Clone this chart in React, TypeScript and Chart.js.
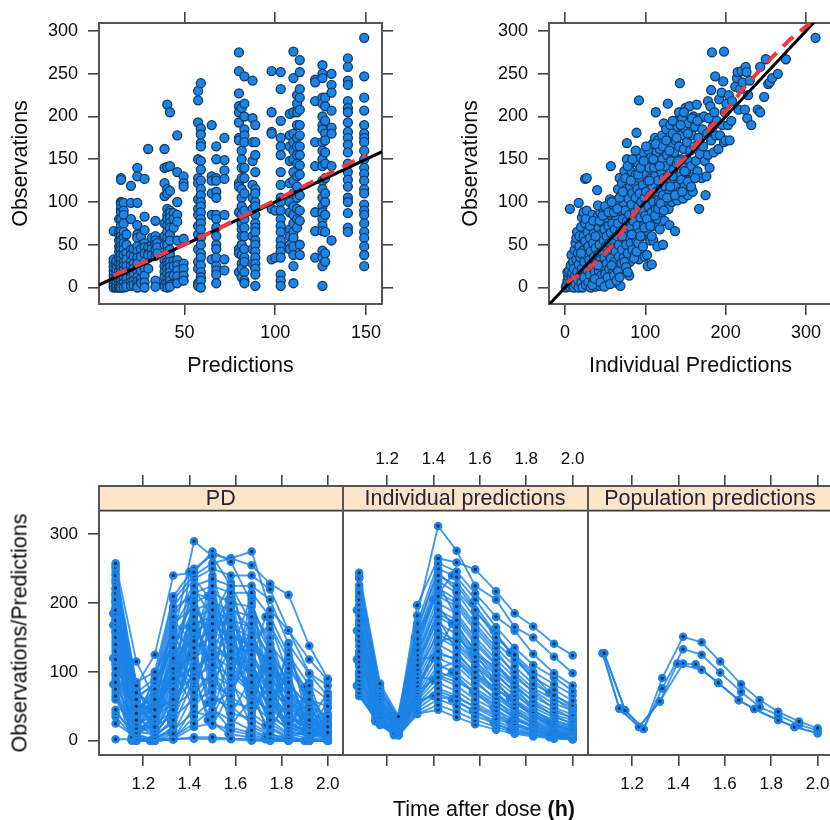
import React, { useEffect, useRef } from "react";
import { Chart, registerables } from "chart.js";
Chart.register(...registerables);

const FONT = "'Liberation Sans', Arial, sans-serif";
const BLUE = "#1c84e6";
const EDGE = "#123a63";
const FRAME = "#555555";

const yTicksTop = [0, 50, 100, 150, 200, 250, 300];
const xTicksPred = [50, 100, 150];
const xTicksIpred = [0, 100, 200, 300];
const yTicksBottom = [0, 100, 200, 300];
const timeTicks = [1.2, 1.4, 1.6, 1.8, 2.0];

const predColumns = [11, 12.5, 14, 15, 16.5, 18, 20.5, 22, 24, 26, 28, 30, 32, 34, 35, 39, 40.5, 42, 44, 46, 49.5, 57.5, 59, 65, 67.5, 72, 80, 81.5, 83, 87.5, 89, 98, 100, 103, 108, 110, 112, 113.5, 122, 126, 127.5, 131, 140, 149];
const obsByColumn = [
  [0, 2, 5, 9, 14, 19, 24, 29, 33, 66],
  [0, 1, 4, 8, 12, 17, 22, 27, 31],
  [0, 2, 6, 10, 15, 20, 28, 35, 42, 48, 55, 62, 66, 80],
  [128, 126, 100, 98, 92, 88, 80, 72, 66, 60, 55, 48, 44, 38, 32, 27, 22, 18, 13, 8, 3, 0],
  [99, 90, 85, 75, 65, 58, 52, 45, 38, 30, 25, 20, 15, 10, 5, 0],
  [62, 50, 40, 33, 25, 18, 10, 4, 1],
  [119, 99, 80, 44, 38, 30, 25, 18, 12, 6, 2],
  [45, 36, 28, 22, 15, 8, 3],
  [140, 130, 99, 73, 62, 58, 48, 42, 35, 28, 20, 12, 7, 3, 0],
  [60, 45, 36, 20, 10, 5],
  [127, 83, 67, 52, 47, 40, 30, 22, 14, 6, 0],
  [162, 47, 40, 38, 22],
  [50, 58, 45, 38],
  [78, 60, 55, 50, 44, 37, 8, 1],
  [52, 47, 40],
  [162, 140, 122, 107, 75, 60, 50, 32, 25, 18, 12, 4, 1],
  [214, 141, 115, 110, 92, 85, 80, 72, 65, 58, 50, 42, 35, 30, 26, 22, 16, 10, 5, 0],
  [205, 142, 113, 90, 87, 82, 76, 70, 62, 55, 44, 38, 30, 24, 18, 13, 8, 3, 1],
  [87, 80, 70, 31, 25, 14],
  [178, 135, 100, 85, 77, 55, 32, 26, 20, 13, 5],
  [130, 122, 118, 57, 28, 22, 14, 8],
  [230, 219, 193, 150, 128, 122, 103, 92, 85, 72, 62, 45, 30, 22, 5, 2],
  [239, 186, 179, 169, 165, 148, 138, 125, 115, 108, 100, 95, 88, 80, 75, 68, 58, 50, 40, 35, 26, 18, 12, 8, 0],
  [190, 130, 125, 110, 85, 33],
  [165, 150, 128, 125, 112, 105, 85, 80, 70, 60, 50, 45, 35, 25, 20, 15, 5],
  [175, 149, 137, 127, 85, 33, 20],
  [275, 253, 227, 212, 205, 193, 175, 172, 122, 118, 88, 45, 40, 18],
  [210, 160, 150, 140, 128, 115, 105, 95, 85, 75, 68, 60, 50, 38, 28, 22, 12],
  [247, 215, 200, 185, 178, 170, 140, 128, 110, 90, 80, 70, 60, 45, 35, 30, 18, 8, 5],
  [242, 198, 170, 148, 120, 105, 92, 60, 45, 28],
  [190, 170, 155, 135, 115, 110, 100, 95, 85, 75, 70, 65, 55, 50, 42, 35, 28, 22, 15, 2],
  [253, 205, 182, 180, 92, 33],
  [90, 35],
  [252, 232, 195, 175, 165, 155, 135, 120, 105, 100, 90, 80, 72, 65, 55, 48, 42, 35, 15, 8, 2],
  [203, 178, 165, 148, 122, 100, 88, 68, 60, 50, 45],
  [276, 245, 205, 180, 170, 160, 150, 135, 125, 110, 95, 85, 75, 65, 58, 48, 38, 25, 5],
  [225, 215, 205, 190, 175, 165, 155, 145, 130, 118, 105, 92, 80, 70],
  [266, 252, 232, 222, 208, 190, 178, 165, 155, 143, 132, 108, 90, 78, 50, 38],
  [243, 240, 218, 170, 142, 88, 66, 35],
  [260, 250, 245, 222, 215, 200, 190, 185, 170, 160, 150, 142, 125, 115, 105, 95, 88, 80, 72, 66, 43, 35, 25, 2],
  [222, 212, 195, 180, 172, 158, 145, 128, 110, 100, 85, 65, 40, 30],
  [250, 237, 228, 207, 187, 180, 142, 55],
  [268, 258, 242, 237, 218, 210, 205, 193, 182, 175, 167, 158, 145, 135, 126, 118, 105, 100, 87, 70, 65],
  [292, 247, 222, 207, 190, 180, 175, 170, 160, 150, 140, 133, 125, 115, 110, 97, 90, 85, 75, 65, 58, 48, 38, 25],
];

const ipredObsPairs = [
  [1, 0], [2, 3], [3, 8], [4, 13], [3, 18], [5, 20], [6, 92], [6, 1], [7, 6], [7, 26], [8, 11], [8, 38], [9, 2], [9, 17], [10, 30], [10, 8], [11, 0], [11, 22], [12, 44], [12, 13],
  [13, 52], [13, 4], [14, 33], [14, 58], [15, 18], [15, 65], [16, 9], [16, 40], [17, 99], [17, 0], [17, 27], [18, 48], [18, 60], [19, 14], [19, 35], [20, 5], [20, 71], [21, 22], [21, 82], [22, 43],
  [22, 0], [23, 88], [23, 60], [24, 30], [24, 12], [25, 127], [25, 54], [25, 75], [26, 3], [27, 128], [27, 38], [27, 90], [28, 20], [28, 65], [29, 48], [29, 6], [30, 80], [30, 32], [31, 58], [31, 15],
  [32, 0], [32, 42], [33, 72], [33, 24], [34, 85], [35, 52], [35, 8], [36, 36], [36, 64], [37, 18], [37, 78], [38, 1], [38, 46], [39, 28], [40, 114], [40, 60], [40, 10], [41, 84], [41, 38], [42, 20],
  [42, 70], [43, 50], [43, 2], [44, 32], [44, 88], [45, 62], [45, 14], [46, 76], [46, 42], [47, 25], [47, 5], [48, 55], [48, 90], [49, 35], [49, 68], [50, 16], [50, 80], [51, 48], [51, 3], [52, 60],
  [52, 28], [53, 96], [53, 40], [54, 72], [54, 10], [55, 52], [55, 22], [56, 103], [56, 85], [57, 142], [57, 34], [57, 64], [58, 6], [58, 45], [59, 92], [59, 75], [60, 18], [60, 56], [61, 101], [61, 30],
  [62, 68], [62, 10], [63, 84], [63, 42], [64, 98], [64, 24], [65, 60], [65, 5], [66, 115], [66, 75], [67, 36], [67, 50], [68, 90], [68, 128], [69, 2], [69, 66], [70, 108], [70, 28], [71, 122], [71, 44],
  [72, 80], [72, 58], [73, 100], [73, 35], [74, 136], [74, 68], [75, 20], [75, 90], [76, 115], [76, 50], [77, 169], [77, 150], [77, 78], [78, 40], [78, 128], [79, 60], [79, 104], [80, 14], [80, 85], [80, 142],
  [81, 30], [81, 118], [82, 70], [82, 52], [83, 97], [83, 135], [84, 44], [84, 110], [85, 78], [85, 148], [86, 62], [86, 122], [87, 88], [87, 38], [88, 132], [88, 105], [89, 181], [89, 54], [90, 72], [90, 115],
  [91, 145], [91, 94], [92, 219], [92, 33], [92, 64], [93, 128], [93, 110], [94, 82], [94, 152], [95, 44], [95, 100], [96, 138], [96, 60], [97, 120], [97, 90], [98, 158], [98, 72], [99, 105], [99, 36], [100, 132],
  [100, 84], [101, 148], [101, 112], [102, 38], [102, 66], [103, 25], [103, 125], [104, 160], [104, 95], [105, 76], [105, 140], [106, 108], [106, 55], [107, 152], [107, 128], [108, 27], [108, 88], [109, 168], [109, 118], [110, 55],
  [110, 100], [111, 140], [111, 72], [112, 175], [112, 130], [113, 205], [113, 92], [114, 158], [114, 112], [115, 48], [115, 80], [116, 172], [116, 125], [117, 100], [117, 145], [118, 68], [118, 162], [119, 115], [120, 88], [120, 135],
  [121, 178], [121, 150], [122, 50], [122, 108], [123, 192], [123, 128], [124, 78], [124, 165], [125, 118], [125, 142], [126, 100], [126, 185], [127, 155], [128, 215], [128, 130], [129, 92], [129, 172], [130, 73], [130, 112], [131, 190],
  [132, 148], [132, 125], [133, 165], [133, 100], [134, 180], [135, 138], [135, 106], [136, 158], [137, 66], [137, 195], [138, 118], [138, 172], [139, 145], [140, 102], [140, 188], [141, 130], [142, 165], [142, 205], [143, 239], [143, 112],
  [144, 150], [145, 178], [145, 126], [146, 198], [147, 140], [147, 104], [148, 162], [149, 118], [150, 185], [150, 210], [151, 135], [152, 170], [152, 150], [153, 108], [154, 192], [155, 126], [155, 212], [156, 160], [157, 142], [158, 178],
  [159, 112], [160, 200], [160, 130], [161, 165], [162, 188], [163, 148], [164, 214], [165, 136], [166, 175], [167, 92], [168, 156], [168, 198], [170, 128], [171, 185], [172, 165], [173, 200], [174, 148], [175, 108], [176, 130], [177, 180],
  [178, 218], [178, 155], [179, 198], [180, 140], [181, 212], [182, 231], [182, 172], [183, 275], [184, 188], [185, 158], [186, 205], [187, 247], [188, 178], [189, 195], [191, 162], [192, 220], [193, 178], [195, 228], [196, 190], [197, 241],
  [198, 276], [198, 170], [199, 205], [200, 172], [201, 215], [203, 190], [204, 225], [205, 172], [207, 195], [208, 218], [212, 235], [214, 245], [215, 252], [216, 208], [218, 232], [220, 253], [221, 240], [224, 208], [225, 258], [226, 252],
  [227, 198], [228, 225], [230, 242], [232, 190], [240, 208], [243, 205], [243, 258], [248, 223], [250, 267], [253, 238], [255, 240], [258, 245], [265, 250], [275, 267], [312, 292],
  [34, 3], [37, 10], [41, 26], [44, 6], [49, 1], [53, 12], [56, 4], [58, 26], [61, 14], [64, 8], [66, 19], [68, 12], [71, 60], [74, 30], [76, 24], [78, 18], [83, 62], [86, 34], [89, 42], [91, 52], [94, 60], [97, 48], [99, 70], [102, 80], [106, 72], [108, 60], [112, 84], [116, 92], [119, 98], [123, 90], [127, 105], [131, 118], [134, 130], [137, 108], [141, 148], [146, 112], [149, 136], [153, 124], [157, 118], [162, 128],
  [20, 40], [26, 80], [31, 72], [35, 78], [38, 60], [41, 96], [43, 78], [47, 84], [50, 95], [54, 88], [58, 100], [61, 88], [65, 92], [68, 105], [72, 112], [75, 128], [78, 142], [82, 125], [84, 150], [88, 160], [91, 132], [94, 140], [98, 148], [101, 165], [105, 125], [110, 150], [113, 168], [118, 142], [122, 165], [126, 172], [130, 160], [134, 195], [139, 175], [144, 190], [148, 205], [153, 180], [158, 198], [165, 195],
];

const lineEnds = [-30, 340];
const predLoessX = [11, 60, 100, 150];
const predLoessY = [14, 60, 102, 155];
const ipredLoessX = [2, 30, 60, 80, 100, 120, 150, 180, 200, 225, 250, 280, 305];
const ipredLoessY = [6, 22, 50, 78, 104, 125, 152, 186, 206, 236, 262, 290, 309];

const doseTimes = [1.08, 1.17, 1.25, 1.33, 1.42, 1.5, 1.58, 1.67, 1.75, 1.83, 1.92, 2.0];
const earlyTimes = [1.07, 1.15, 1.23, 1.32, 1.4, 1.48, 1.57, 1.66, 1.73, 1.83, 1.9, 2.0];

const pdMain = [
  [258, 115, 60, 150, 290, 268, 225, 170, 120, 70, 30, 12],
  [252, 80, 125, 240, 245, 275, 260, 200, 130, 85, 45, 20],
  [240, 85, 100, 210, 250, 270, 265, 255, 228, 212, 138, 90],
  [222, 70, 90, 205, 240, 258, 265, 275, 190, 160, 118, 88],
  [215, 60, 85, 195, 235, 250, 240, 240, 220, 160, 98, 80],
  [205, 50, 60, 180, 225, 235, 225, 225, 205, 140, 97, 65],
  [190, 40, 75, 165, 215, 225, 215, 215, 180, 125, 80, 60],
  [185, 30, 55, 150, 200, 215, 200, 195, 140, 105, 60, 50],
  [175, 72, 45, 135, 190, 200, 190, 180, 130, 82, 50, 35],
  [170, 25, 35, 120, 180, 190, 175, 165, 120, 75, 40, 30],
  [160, 55, 40, 105, 170, 180, 165, 150, 105, 62, 32, 22],
  [140, 18, 20, 90, 160, 170, 150, 140, 95, 50, 25, 18],
  [130, 45, 30, 75, 145, 160, 140, 125, 85, 40, 20, 12],
  [118, 35, 15, 60, 135, 150, 130, 110, 70, 35, 18, 8],
  [105, 12, 10, 45, 120, 140, 120, 95, 60, 25, 12, 5],
  [95, 25, 5, 30, 105, 125, 105, 85, 50, 20, 10, 3],
  [85, 8, 2, 20, 90, 110, 95, 70, 40, 15, 6, 0],
  [75, 4, 0, 10, 70, 95, 80, 55, 30, 10, 3, 0],
  [65, 2, 0, 2, 50, 80, 65, 40, 20, 5, 0, 0],
  [45, 0, 0, 2, 35, 60, 50, 25, 10, 2, 0, 0],
  [40, 10, 0, 5, 25, 45, 30, 15, 5, 0, 0, 0],
  [35, 0, 2, 2, 20, 25, 15, 8, 2, 0, 0, 0],
  [25, 5, 0, 2, 5, 5, 3, 2, 0, 0, 0, 0],
  [2, 2, 0, 2, 3, 2, 2, 0, 0, 0, 0, 0],
  [248, 40, 70, 190, 215, 205, 160, 120, 75, 50, 20, 10],
  [235, 28, 50, 170, 195, 155, 185, 100, 60, 35, 15, 5],
  [210, 65, 80, 140, 205, 130, 120, 145, 90, 55, 25, 15],
  [200, 32, 30, 100, 128, 175, 145, 90, 110, 42, 30, 8],
  [180, 15, 65, 115, 150, 110, 170, 130, 65, 90, 22, 2],
  [165, 48, 25, 85, 110, 195, 100, 75, 140, 30, 55, 0],
  [150, 20, 12, 65, 95, 85, 135, 60, 45, 100, 12, 25],
  [125, 5, 42, 125, 85, 120, 75, 115, 35, 18, 70, 5],
  [110, 38, 8, 50, 72, 100, 55, 48, 80, 12, 8, 48],
  [90, 10, 22, 35, 60, 70, 40, 32, 15, 65, 5, 15],
  [70, 0, 5, 15, 42, 35, 90, 20, 8, 5, 35, 2],
  [228, 58, 35, 95, 175, 165, 210, 80, 55, 28, 10, 30],
  [195, 22, 95, 160, 130, 215, 125, 100, 25, 8, 45, 0],
  [145, 62, 18, 70, 155, 90, 60, 155, 100, 45, 2, 18],
  [255, 50, 28, 110, 80, 145, 110, 65, 12, 120, 60, 10],
  [220, 42, 52, 55, 118, 60, 180, 35, 162, 22, 4, 40],
  [232, 68, 48, 175, 140, 240, 155, 135, 115, 60, 28, 6],
  [212, 52, 38, 128, 220, 180, 230, 105, 68, 38, 16, 3],
  [192, 36, 88, 82, 165, 125, 195, 160, 78, 48, 65, 28],
  [178, 78, 22, 155, 100, 210, 90, 185, 150, 72, 36, 14],
  [155, 28, 68, 48, 185, 75, 220, 118, 42, 112, 52, 1],
  [135, 58, 14, 112, 68, 185, 148, 52, 125, 28, 7, 35],
  [122, 16, 32, 68, 210, 135, 82, 205, 58, 16, 42, 0],
  [98, 42, 55, 95, 125, 230, 115, 78, 30, 142, 18, 55],
  [80, 22, 18, 132, 55, 95, 205, 45, 92, 8, 85, 9],
  [243, 74, 42, 88, 198, 55, 70, 142, 170, 95, 12, 22],
  [202, 34, 78, 145, 78, 152, 38, 92, 20, 55, 28, 70],
  [172, 12, 26, 42, 138, 40, 128, 210, 72, 6, 0, 32],
  [158, 66, 10, 25, 172, 108, 22, 62, 135, 32, 22, 0],
  [112, 48, 62, 102, 48, 205, 175, 28, 105, 78, 3, 16],
  [60, 6, 35, 55, 92, 22, 72, 170, 48, 132, 38, 4],
];
const pdEarly = [
  [185, 5, 0, 28, 245, 210, 155, 105, 180, 118, 78, 25],
  [168, 3, 45, 80, 205, 120, 205, 88, 22, 3, 15, 0],
  [120, 1, 0, 40, 165, 55, 20, 12, 6, 2, 0, 0],
  [82, 0, 0, 12, 125, 30, 10, 5, 2, 0, 0, 0],
];

const ipredMain = [
  [244, 83, 35, 197, 265, 259, 249, 217, 185, 166, 141, 124],
  [236, 78, 33, 182, 312, 276, 225, 205, 165, 150, 122, 98],
  [226, 75, 30, 170, 258, 246, 214, 180, 160, 126, 98, 80],
  [215, 70, 28, 158, 250, 238, 205, 165, 135, 110, 92, 72],
  [205, 66, 28, 148, 240, 226, 190, 150, 125, 100, 82, 66],
  [198, 62, 26, 140, 232, 215, 178, 142, 118, 92, 74, 58],
  [190, 58, 26, 132, 222, 205, 170, 135, 108, 82, 66, 52],
  [182, 55, 24, 125, 210, 195, 160, 125, 100, 76, 60, 48],
  [175, 52, 24, 118, 200, 185, 150, 118, 92, 72, 54, 44],
  [168, 48, 22, 110, 190, 175, 140, 110, 85, 64, 48, 38],
  [160, 46, 22, 104, 180, 165, 132, 102, 78, 58, 42, 34],
  [152, 42, 20, 98, 170, 155, 122, 95, 72, 52, 38, 30],
  [145, 40, 20, 92, 160, 145, 115, 88, 66, 48, 34, 26],
  [138, 36, 18, 86, 150, 135, 108, 82, 60, 42, 30, 22],
  [130, 34, 18, 80, 140, 125, 100, 76, 54, 38, 26, 18],
  [122, 32, 16, 75, 130, 116, 92, 68, 48, 34, 22, 15],
  [115, 30, 16, 70, 120, 108, 84, 62, 44, 30, 20, 12],
  [108, 30, 14, 66, 110, 98, 76, 56, 40, 26, 16, 10],
  [100, 28, 14, 62, 100, 90, 68, 50, 35, 22, 14, 8],
  [94, 28, 12, 58, 92, 80, 60, 44, 30, 20, 12, 6],
  [88, 26, 12, 54, 84, 72, 54, 38, 25, 16, 10, 5],
  [82, 26, 10, 50, 76, 65, 48, 32, 22, 14, 8, 4],
  [76, 24, 10, 46, 68, 58, 42, 28, 18, 12, 6, 3],
  [70, 24, 10, 42, 60, 50, 36, 24, 15, 10, 5, 3],
  [65, 23, 8, 39, 52, 42, 30, 20, 12, 8, 4, 2],
  [65, 23, 8, 39, 45, 34, 24, 16, 10, 6, 3, 2],
  [210, 60, 24, 112, 178, 130, 96, 75, 58, 36, 18, 12],
  [172, 44, 18, 128, 195, 160, 110, 68, 42, 24, 14, 8],
  [125, 38, 22, 72, 145, 150, 125, 108, 80, 45, 24, 16],
  [88, 30, 14, 60, 105, 115, 88, 58, 34, 18, 10, 6],
  [238, 72, 30, 165, 245, 218, 188, 155, 122, 88, 62, 42],
  [220, 56, 26, 150, 215, 200, 165, 130, 96, 70, 46, 32],
  [185, 50, 22, 135, 228, 180, 145, 112, 82, 56, 36, 24],
  [150, 44, 20, 115, 185, 170, 128, 98, 70, 44, 28, 20],
  [112, 36, 16, 100, 155, 140, 112, 84, 56, 36, 22, 14],
  [96, 32, 14, 85, 125, 120, 95, 70, 46, 28, 16, 10],
  [78, 28, 12, 70, 95, 85, 72, 52, 32, 20, 12, 7],
  [68, 26, 10, 55, 72, 62, 50, 36, 22, 14, 8, 4],
];
const ipredEarly = [
  [190, 40, 12, 150, 205, 240, 200, 160, 128, 96, 70, 50],
  [160, 34, 10, 120, 120, 170, 130, 90, 62, 40, 26, 14],
  [118, 30, 10, 95, 88, 100, 72, 48, 28, 15, 8, 4],
  [80, 28, 8, 55, 65, 60, 44, 26, 16, 9, 5, 2],
];

const popTimeSets = [doseTimes, doseTimes, [1.073, 1.145, 1.23, 1.32, 1.395, 1.5, 1.572, 1.66, 1.727, 1.83, 1.9, 2.0], [1.073, 1.145, 1.23, 1.32, 1.42, 1.474, 1.572, 1.66, 1.727, 1.83, 1.9, 2.0]];
const popValues = [
  [127, 44, 17, 91, 151, 143, 115, 82, 59, 42, 28, 18],
  [127, 44, 17, 76, 133, 125, 99, 71, 49, 37, 23, 15],
  [127, 47, 20, 57, 112, 103, 84, 59, 46, 30, 20, 11],
  [127, 47, 20, 57, 112, 111, 84, 59, 46, 30, 20, 11],
];

type AxisCfg = { id: string; pos: string; min: number; max: number; vals?: number[]; labels?: boolean; size: number; tick?: number; pad?: number; title?: string; titlePad?: number; dec?: number; fs?: number };

function axis(c: AxisCfg) {
  const tick = c.tick ?? 11;
  return {
    type: "linear",
    position: c.pos,
    axis: c.pos === "top" || c.pos === "bottom" ? "x" : "y",
    min: c.min,
    max: c.max,
    afterBuildTicks: (s: any) => { s.ticks = (c.vals ?? []).map((value) => ({ value })); },
    afterFit: (s: any) => { if (s.isHorizontal()) s.height = c.size; else s.width = c.size; },
    border: { display: true, color: FRAME, width: 2 },
    grid: { drawOnChartArea: false, drawTicks: tick > 0, tickLength: tick, color: "#444444", lineWidth: 1.6 },
    ticks: {
      display: !!c.labels,
      autoSkip: false,
      maxRotation: 0,
      minRotation: 0,
      padding: c.pad ?? 10,
      color: "#0c0c0c",
      font: { family: FONT, size: c.fs ?? 18 },
      callback: (v: number) => (c.dec ? Number(v).toFixed(c.dec) : String(v)),
    },
    title: c.title
      ? { display: true, text: c.title, color: "#0c0c0c", font: { family: FONT, size: 21.5 }, padding: { top: c.titlePad ?? 0, bottom: c.titlePad ?? 0 } }
      : { display: false },
  };
}

function stripPlugin(text: string) {
  return {
    id: "strip",
    beforeDraw(chart: any) {
      const { left, right, top } = chart.chartArea;
      const { ctx } = chart;
      const h = 24.7;
      ctx.save();
      ctx.fillStyle = "#fde3c8";
      ctx.fillRect(left, top, right - left, h);
      ctx.strokeStyle = "#3d3d3d";
      ctx.lineWidth = 1.8;
      ctx.beginPath();
      ctx.moveTo(left, top + h);
      ctx.lineTo(right, top + h);
      ctx.stroke();
      ctx.fillStyle = "#23233a";
      ctx.font = `21.5px ${FONT}`;
      ctx.textAlign = "center";
      ctx.textBaseline = "middle";
      ctx.fillText(text, (left + right) / 2, top + h / 2 + 0.5);
      ctx.restore();
    },
  };
}

const lineSet = (xs: number[], ys: number[], color: string, w: number, dash?: number[]) => ({
  data: xs.map((x, i) => ({ x, y: ys[i] })),
  showLine: true,
  borderColor: color,
  borderWidth: w,
  borderDash: dash ?? [],
  pointRadius: 0,
  borderCapStyle: "butt",
});

const dotSet = (data: { x: number; y: number }[]) => ({
  data,
  showLine: false,
  pointRadius: 4.5,
  pointBackgroundColor: BLUE,
  pointBorderColor: EDGE,
  pointBorderWidth: 1.3,
});

const profile = (times: number[], vals: number[]) => ({
  data: vals.map((y, i) => ({ x: times[i], y })),
  showLine: true,
  borderColor: "rgba(28,132,230,0.82)",
  borderWidth: 1.9,
  pointRadius: 3,
  pointBackgroundColor: "#0f2f5a",
  pointBorderColor: BLUE,
  pointBorderWidth: 2.6,
});

const scatterPoints1 = predColumns.flatMap((x, i) => obsByColumn[i].map((y) => ({ x, y })));
const scatterPoints2 = ipredObsPairs.map(([x, y]) => ({ x, y }));

function topOptions(xMin: number, xMax: number, xVals: number[], xTitle: string) {
  const yMin = -19.3;
  const yMax = 309.4;
  return {
    responsive: false,
    animation: false,
    layout: { autoPadding: false, padding: 0 },
    plugins: { legend: { display: false }, tooltip: { enabled: false } },
    scales: {
      x: axis({ id: "x", pos: "bottom", min: xMin, max: xMax, vals: xVals, labels: true, size: 86, pad: 7, title: xTitle, titlePad: 11 }),
      xTop: axis({ id: "xTop", pos: "top", min: xMin, max: xMax, vals: xVals, size: 23 }),
      y: axis({ id: "y", pos: "left", min: yMin, max: yMax, vals: yTicksTop, labels: true, size: 99, title: "Observations", titlePad: 8 }),
      yRight: axis({ id: "yRight", pos: "right", min: yMin, max: yMax, vals: yTicksTop, size: 28 }),
    },
  };
}

function panelOptions(kind: "first" | "second" | "third") {
  const xMin = 1.008;
  const xMax = 2.064;
  const yMin = -20.8;
  const yMax = 370.2;
  const first = kind === "first";
  const second = kind === "second";
  return {
    responsive: false,
    animation: false,
    layout: { autoPadding: false, padding: 0 },
    plugins: { legend: { display: false }, tooltip: { enabled: false } },
    scales: {
      x: axis({ id: "x", pos: "bottom", min: xMin, max: xMax, vals: timeTicks, labels: !second, size: 65, pad: 8, dec: 1, fs: 17 }),
      xTop: axis({ id: "xTop", pos: "top", min: xMin, max: xMax, vals: timeTicks, labels: second, size: 46, pad: 5, dec: 1, fs: 17 }),
      y: axis({ id: "y", pos: "left", min: yMin, max: yMax, vals: first ? yTicksBottom : [], labels: first, size: first ? 99 : 22.5, tick: first ? 11 : 0, fs: 17 }),
      yRight: axis({ id: "yRight", pos: "right", min: yMin, max: yMax, vals: [], size: first ? 9.5 : 12.5, tick: 0 }),
    },
  };
}

const specs: { left: number; top: number; w: number; h: number; config: any }[] = [
  {
    left: 0, top: 0, w: 410, h: 390,
    config: {
      type: "scatter",
      data: { datasets: [lineSet(predLoessX, predLoessY, "#ee3a3f", 4, [14, 9]), lineSet(lineEnds, lineEnds, "#000000", 3), dotSet(scatterPoints1)] },
      options: topOptions(2.9, 158.8, xTicksPred, "Predictions"),
    },
  },
  {
    left: 450, top: 0, w: 410, h: 390,
    config: {
      type: "scatter",
      data: { datasets: [lineSet(ipredLoessX, ipredLoessY, "#ee3a3f", 4, [14, 9]), lineSet(lineEnds, lineEnds, "#000000", 3), dotSet(scatterPoints2)] },
      options: topOptions(-20, 332.5, xTicksIpred, "Individual Predictions"),
    },
  },
  {
    left: 0, top: 440, w: 352, h: 380,
    config: {
      type: "scatter",
      data: { datasets: [...pdMain.map((r) => profile(doseTimes, r)), ...pdEarly.map((r) => profile(earlyTimes, r))] },
      options: panelOptions("first"),
      plugins: [stripPlugin("PD")],
    },
  },
  {
    left: 320, top: 440, w: 280, h: 380,
    config: {
      type: "scatter",
      data: { datasets: [...ipredMain.map((r) => profile(doseTimes, r)), ...ipredEarly.map((r) => profile(earlyTimes, r))] },
      options: panelOptions("second"),
      plugins: [stripPlugin("Individual predictions")],
    },
  },
  {
    left: 565, top: 440, w: 280, h: 380,
    config: {
      type: "scatter",
      data: { datasets: popValues.map((r, i) => profile(popTimeSets[i], r)) },
      options: panelOptions("third"),
      plugins: [stripPlugin("Population predictions")],
    },
  },
];

function Panel({ spec }: { spec: (typeof specs)[number] }) {
  const ref = useRef<HTMLCanvasElement | null>(null);
  useEffect(() => {
    const chart = new Chart(ref.current as HTMLCanvasElement, spec.config);
    return () => chart.destroy();
  }, [spec]);
  return <canvas ref={ref} width={spec.w} height={spec.h} style={{ position: "absolute", left: spec.left, top: spec.top, width: spec.w, height: spec.h }} />;
}

export default function App() {
  return (
    <div style={{ position: "absolute", left: 0, top: 0, width: 830, height: 820, overflow: "hidden", background: "#fff", filter: "blur(0.45px)", fontFamily: FONT, color: "#0c0c0c" }}>
      {specs.map((s, i) => <Panel key={i} spec={s} />)}
      <div style={{ position: "absolute", left: 20, top: 633, fontSize: 21.5, whiteSpace: "nowrap", transform: "translate(-50%,-50%) rotate(-90deg)" }}>Observations/Predictions</div>
      <div style={{ position: "absolute", left: 484, top: 809, fontSize: 21.5, whiteSpace: "nowrap", transform: "translate(-50%,-50%)" }}>Time after dose <b>(h)</b></div>
    </div>
  );
}
